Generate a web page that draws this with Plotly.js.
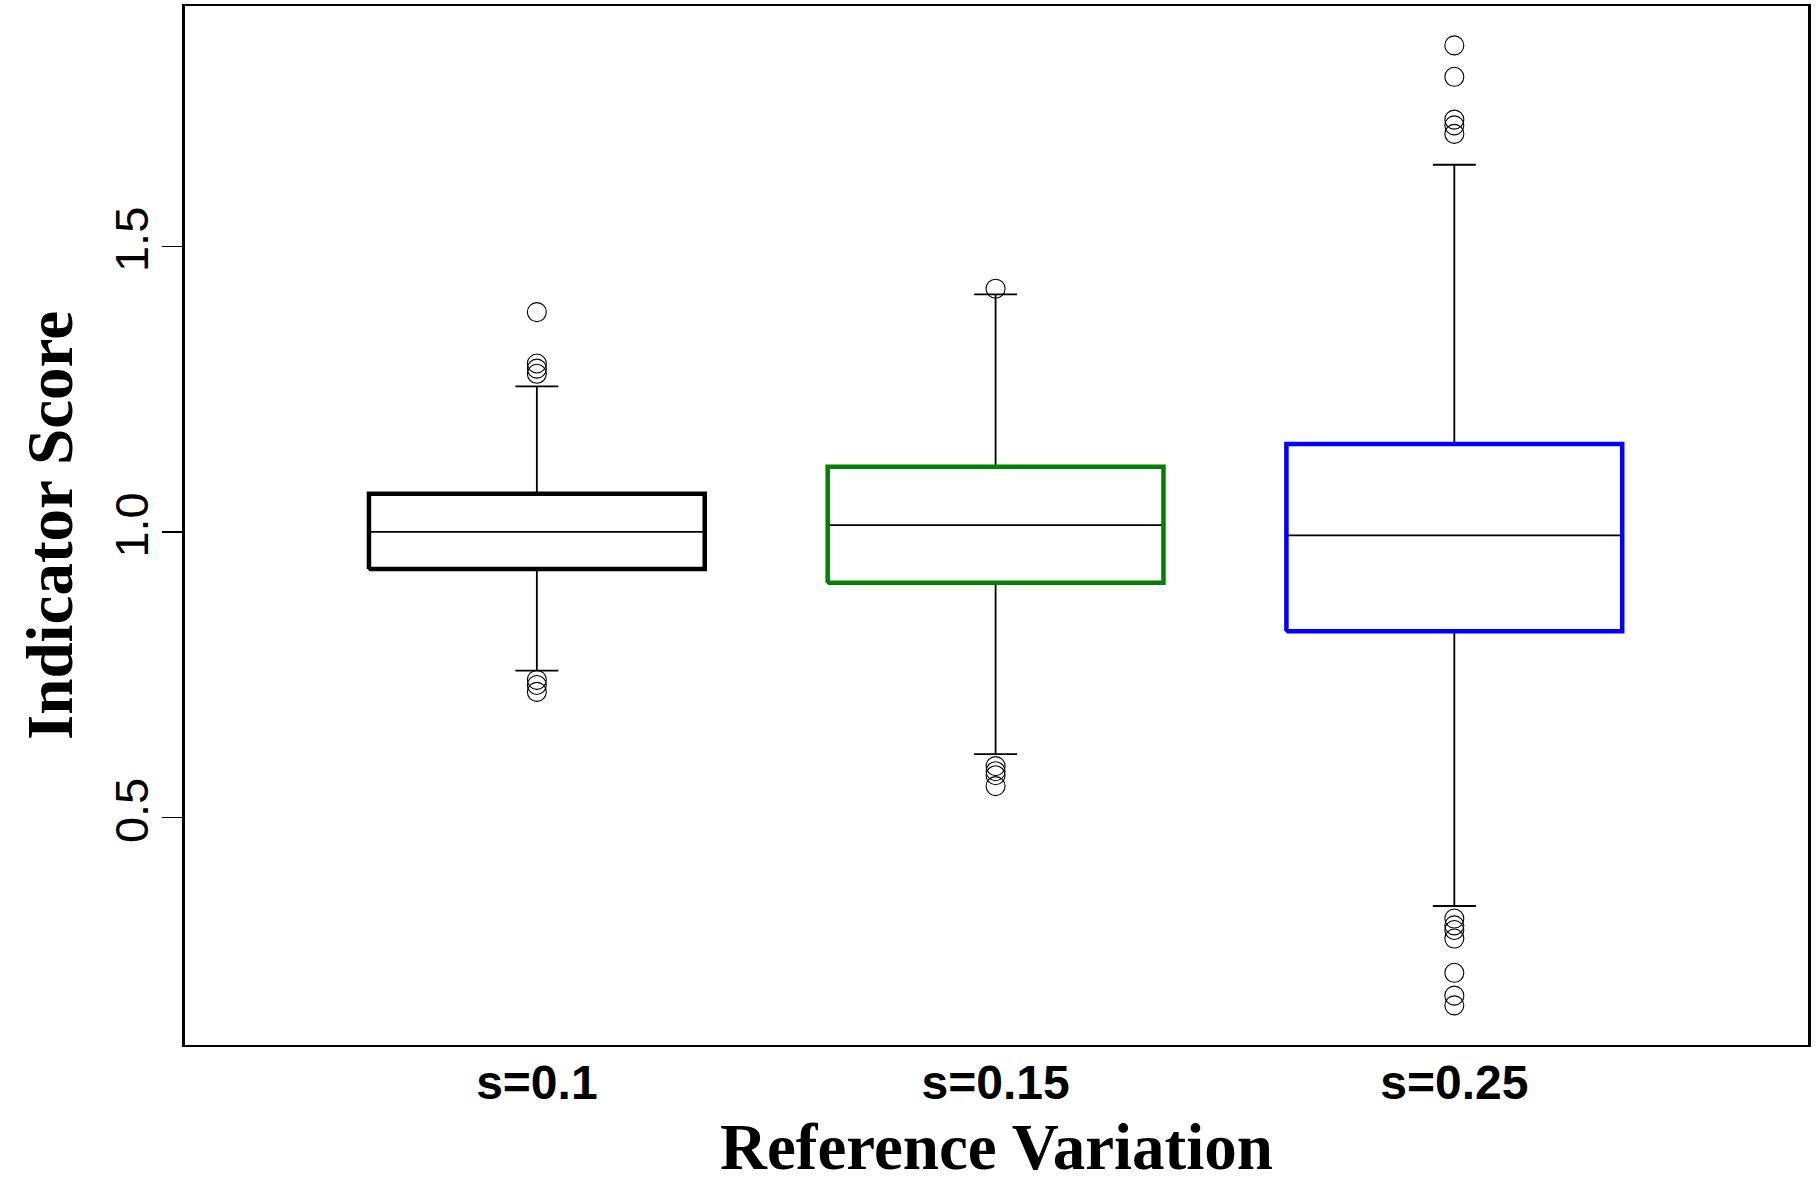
<!DOCTYPE html>
<html>
<head>
<meta charset="utf-8">
<script src="https://cdn.plot.ly/plotly-3.0.1.min.js"></script>
<style>html,body{margin:0;padding:0;background:#fff;}#chart{width:1817px;height:1183px;}</style>
</head>
<body>
<div id="chart"></div>
<script>
// ---- data ----
const categories = ['s=0.1', 's=0.15', 's=0.25'];
const boxColors = ['#000000', '#008000', '#0000FF'];
const lowerWhisker = [0.757, 0.611, 0.345];
const q1 = [0.935, 0.911, 0.826];
const median = [1.000, 1.012, 0.994];
const q3 = [1.067, 1.114, 1.154];
const upperWhisker = [1.255, 1.416, 1.643];
const outliers_s010 = [1.385, 1.295, 1.286, 1.277, 0.741, 0.732, 0.720];
const outliers_s015 = [1.426, 0.590, 0.581, 0.574, 0.555];
const outliers_s025 = [1.852, 1.797, 1.722, 1.712, 1.697, 0.323, 0.311, 0.303, 0.288, 0.228, 0.188, 0.171];
const yTickVals = [0.5, 1.0, 1.5];
const yTickText = ['0.5', '1.0', '1.5'];

const outlierSets = [outliers_s010, outliers_s015, outliers_s025];
const positions = categories.map((c, i) => i + 1);
const boxWidth = 0.732;

const traces = [];
// black whiskers, caps and median via box traces
categories.forEach((c, i) => {
  traces.push({
    type: 'box', name: c, x: [positions[i]],
    q1: [q1[i]], median: [median[i]], q3: [q3[i]],
    lowerfence: [lowerWhisker[i]], upperfence: [upperWhisker[i]],
    width: boxWidth, whiskerwidth: 0.128,
    line: {color: '#000000', width: 1.8},
    fillcolor: 'rgba(0,0,0,0)', boxpoints: false, showlegend: false
  });
});
// coloured box outlines
categories.forEach((c, i) => {
  const p = positions[i], h = boxWidth / 2;
  traces.push({
    type: 'scatter', mode: 'lines', name: c + ' box',
    x: [p - h, p + h, p + h, p - h, p - h],
    y: [q1[i], q1[i], q3[i], q3[i], q1[i]],
    line: {color: boxColors[i], width: 4.5},
    hoverinfo: 'skip', showlegend: false
  });
});
// outliers
categories.forEach((c, i) => {
  traces.push({
    type: 'scatter', mode: 'markers', name: c + ' outliers',
    x: outlierSets[i].map(() => positions[i]), y: outlierSets[i],
    marker: {symbol: 'circle-open', size: 19, color: '#000000', line: {width: 1.1, color: '#000000'}},
    showlegend: false
  });
});

const layout = {
  width: 1817, height: 1183,
  margin: {l: 185, r: 9, t: 6, b: 138},
  paper_bgcolor: '#ffffff', plot_bgcolor: '#ffffff',
  showlegend: false,
  xaxis: {
    range: [0.233, 3.771],
    tickvals: positions, ticktext: categories,
    ticks: '', showgrid: false, zeroline: false,
    showline: true, linecolor: '#000000', linewidth: 2, mirror: true,
    tickfont: {family: 'Liberation Sans, Arial, sans-serif', size: 48, color: '#000000', weight: 'bold'},
    ticklabelstandoff: -6,
    title: {text: 'Reference Variation', font: {family: 'Liberation Serif, Times New Roman, serif', size: 65, color: '#000000', weight: 'bold'}, standoff: 40}
  },
  yaxis: {
    range: [0.1016, 1.921],
    tickvals: yTickVals, ticktext: yTickText,
    ticks: 'outside', ticklen: 20, tickwidth: 1.5, tickcolor: '#000000',
    tickangle: -90,
    showgrid: false, zeroline: false,
    showline: true, linecolor: '#000000', linewidth: 3, mirror: true,
    tickfont: {family: 'Liberation Sans, Arial, sans-serif', size: 47, color: '#000000'},
    ticklabelstandoff: -5,
    title: {text: 'Indicator Score', font: {family: 'Liberation Serif, Times New Roman, serif', size: 65, color: '#000000', weight: 'bold'}, standoff: 12}
  }
};

Plotly.newPlot('chart', traces, layout, {displayModeBar: false, staticPlot: true});
</script>
</body>
</html>
